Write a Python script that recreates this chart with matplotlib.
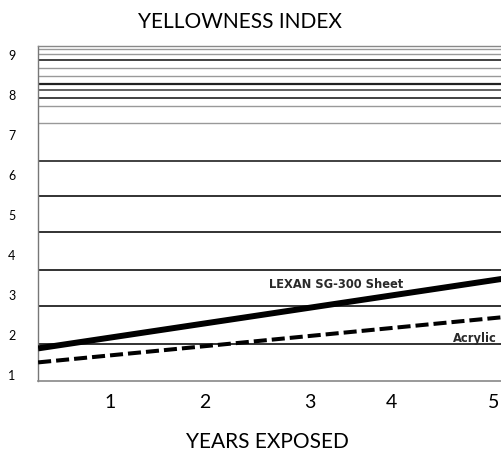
import matplotlib
matplotlib.use('Agg')
import matplotlib.pyplot as plt

plt.rcParams['lines.scale_dashes'] = False

# data
years = [0.25, 5.1]
lexan = [1.64, 3.38]
acrylic = [1.29, 2.42]

y_ticks = [1, 2, 3, 4, 5, 6, 7, 8, 9]
x_tick_labels = ['1', '2', '3', '4', '5']
x_tick_pos = [1.0, 1.99, 3.09, 3.94, 5.0]   # the scanned axis is unevenly spaced

grid_levels = [1.76, 2.69, 3.59, 4.55, 5.455, 6.325, 7.27, 7.70, 7.91,
               8.105, 8.25, 8.46, 8.65, 8.84, 9.01, 9.125]
grid_shade = ['#222222', '#222222', '#222222', '#222222', '#222222', '#333333',
              '#999999', '#999999', '#333333', '#555555', '#222222', '#999999',
              '#999999', '#333333', '#999999', '#999999']

fig = plt.figure(figsize=(5.02, 4.52), dpi=100)
ax = fig.add_axes([37.7 / 502, 70 / 452, 464.3 / 502, 334.7 / 452])

for lvl, c in zip(grid_levels, grid_shade):
    lw = 1.6 if lvl == 8.25 else (1.0 if c == '#999999' else 1.3)
    ax.axhline(lvl, color=c, lw=lw, zorder=1)

ax.plot(years, lexan, color='black', lw=4.3, solid_capstyle='butt', zorder=3)
ax.plot(years, acrylic, color='black', lw=2.9, dashes=(9.4, 3.6), zorder=3)

ax.text(2.662, 3.1825, 'LEXAN SG-300 Sheet', family='DejaVu Sans',
        weight='bold', fontsize=8.3, color='#2a2a2a', ha='left', va='baseline')
ax.text(4.582, 1.8325, 'Acrylic', family='DejaVu Sans',
        weight='bold', fontsize=8.3, color='#2a2a2a', ha='left', va='baseline')

ax.set_xlim(0.2455, 5.091)
ax.set_ylim(0.825, 9.19)
ax.set_yticks(y_ticks)
ax.set_yticklabels([str(v) for v in y_ticks], family='Lato', fontsize=9)
ax.set_xticks(x_tick_pos)
ax.set_xticklabels(x_tick_labels, family='Lato', fontsize=14)
ax.tick_params(axis='y', length=0, pad=16)
ax.tick_params(axis='x', length=0, pad=9)

ax.spines['right'].set_visible(False)
ax.spines['left'].set_color('#777777')
ax.spines['left'].set_linewidth(1.0)
ax.spines['bottom'].set_color('#888888')
ax.spines['bottom'].set_linewidth(1.2)
ax.spines['top'].set_color('#888888')
ax.spines['top'].set_linewidth(1.0)

fig.text(240 / 502, (452 - 27.7) / 452, 'YELLOWNESS INDEX', family='Lato',
         fontsize=15, ha='center', va='baseline')
fig.text(267 / 502, (452 - 448.3) / 452, 'YEARS EXPOSED', family='Lato',
         fontsize=15, ha='center', va='baseline')

fig.savefig('out.png', dpi=100)
